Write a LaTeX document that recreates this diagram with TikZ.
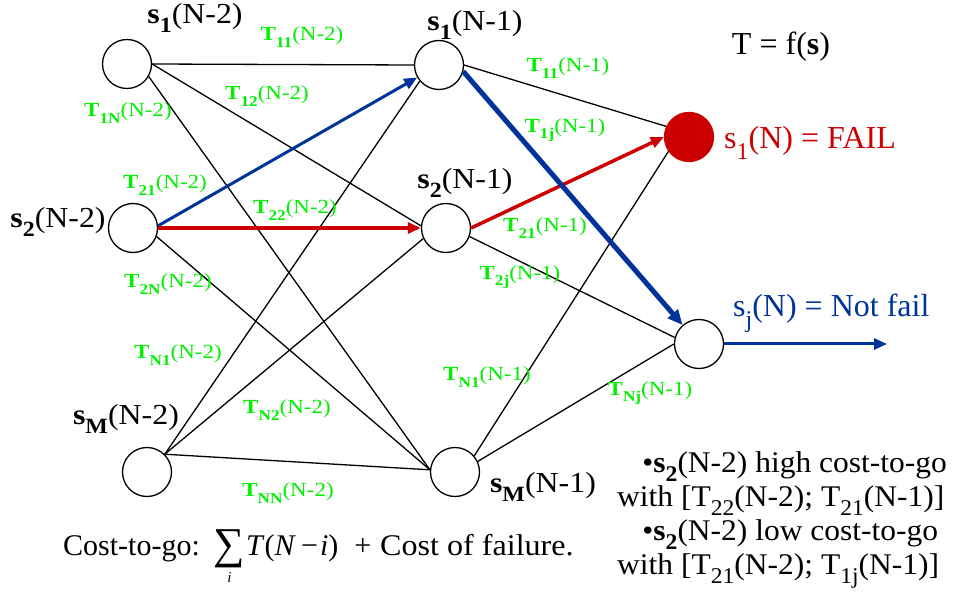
\documentclass[tikz,border=0pt]{standalone}
\usepackage{amsmath}
\usepackage{graphicx}
\usepackage{fontspec}
\setmainfont{Liberation Serif}
\usetikzlibrary{arrows.meta}
\definecolor{lgreen}{RGB}{0,240,0}
\definecolor{dred}{RGB}{204,0,0}
\definecolor{dblue}{RGB}{0,51,153}
\newcommand{\sbs}[1]{\raisebox{-0.33em}{\scalebox{0.75}{#1}}}
\newcommand{\Tl}[2]{\scalebox{1.15}[1]{\textbf{T}\sbs{\textbf{#1}}(#2)}}
\newcommand{\Sl}[2]{\scalebox{1.1}[1]{\textbf{s}\sbs{\textbf{#1}}(#2)}}
\tikzset{
  state/.style={circle, draw, line width=1.3pt, minimum size=49pt, inner sep=0pt},
  edge/.style={line width=1.3pt},
  tlab/.style={text=lgreen, font=\fontsize{20}{22}\selectfont, inner sep=0pt},
  slab/.style={font=\fontsize{29}{31}\selectfont, inner sep=0pt},
  big/.style={font=\fontsize{32}{34}\selectfont, inner sep=0pt},
  txt/.style={font=\fontsize{30}{32}\selectfont, inner sep=0pt},
  redarr/.style={draw=dred, line width=3.5pt, -{Triangle[length=13pt,width=11pt]}},
  bluearr/.style={draw=dblue, line width=3pt, -{Triangle[length=13pt,width=11pt]}},
}
\begin{document}
\begin{tikzpicture}[x=1pt, y=-1pt]
\useasboundingbox (0,0) rectangle (954,596);
% states
\node[state] (A1) at (127,64) {};
\node[state] (A2) at (133,228) {};
\node[state] (AM) at (147,472) {};
\node[state] (B1) at (439,65) {};
\node[state] (B2) at (446,228) {};
\node[state] (BM) at (455,472) {};
\node[state, fill=dred, draw=dred] (C1) at (689,137) {};
\node[state] (Cj) at (699,344) {};
\coordinate (out) at (887,344);
% black edges
\draw[edge] (A1.east) -- (B1.west);
\draw[edge] (A1.east) -- (B2.175);
\draw[edge] (A1.-30) -- (BM.175);
\draw[edge] (A2.-20) -- (BM.175);
\draw[edge] (AM.45) -- (B1.220);
\draw[edge] (AM.45) -- (B2.205);
\draw[edge] (AM.45) -- (BM.175);
\draw[edge] (B1.east) -- (C1.155);
\draw[edge] (B2.-20) -- (Cj.165);
\draw[edge] (BM.40) -- (C1.215);
\draw[edge] (BM.25) -- (Cj.west);
% highlighted paths
\draw[bluearr] (A2.5) -- (B1);
\draw[redarr] (A2.east) -- (B2.west);
\draw[redarr] (B2.east) -- (C1.west);
\draw[bluearr, line width=5pt, -{Triangle[length=15pt,width=13pt]}] (B1.-15) -- (Cj);
\draw[bluearr] (Cj.east) -- (out);
% state labels
\node[slab] (lA1) at (195,18) {\Sl{1}{N-2}};
\node[slab] (lA2) at (58,222) {\Sl{2}{N-2}};
\node[slab] (lAM) at (126,419) {\Sl{M}{N-2}};
\node[slab] (lB1) at (475,25) {\Sl{1}{N-1}};
\node[slab] (lB2) at (465,183) {\Sl{2}{N-1}};
\node[slab] (lBM) at (543,487) {\Sl{M}{N-1}};
\node[big, anchor=base] (tf) at (781,55) {T = f(\textbf{s})};
\node[big, text=dred, anchor=base west] (lC1) at (724,149) {s\sbs{1}(N) = FAIL};
\node[big, text=dblue, anchor=base west] (lCj) at (733,317) {s\sbs{j}(N) = Not fail};
% transition labels
\node[tlab] (t11a) at (302,37) {\Tl{11}{N-2}};
\node[tlab] (t12a) at (267,96) {\Tl{12}{N-2}};
\node[tlab] (t1na) at (128,113) {\Tl{1N}{N-2}};
\node[tlab] (t21a) at (165,185) {\Tl{21}{N-2}};
\node[tlab] (t22a) at (295,210) {\Tl{22}{N-2}};
\node[tlab] (t2na) at (168,284) {\Tl{2N}{N-2}};
\node[tlab] (tn1a) at (178,355) {\Tl{N1}{N-2}};
\node[tlab] (tn2a) at (287,410) {\Tl{N2}{N-2}};
\node[tlab] (tnna) at (288,493) {\Tl{NN}{N-2}};
\node[tlab] (t11b) at (568,68) {\Tl{11}{N-1}};
\node[tlab] (t1jb) at (565,130) {\Tl{1j}{N-1}};
\node[tlab] (t21b) at (545,228) {\Tl{21}{N-1}};
\node[tlab] (t2jb) at (520,277) {\Tl{2j}{N-1}};
\node[tlab] (tn1b) at (487,377) {\Tl{N1}{N-1}};
\node[tlab] (tnjb) at (650,393) {\Tl{Nj}{N-1}};
% texts
\node[txt, anchor=base west] (cost) at (63,555) {Cost-to-go:\hspace{14pt}$\mathop{\vcenter{\hbox{\fontsize{44}{44}\selectfont ∑}}}\limits_{\text{\fontsize{15}{15}\selectfont\itshape i}}$\hspace{1pt}\textit{T}(\textit{N}\hspace{5pt}−\hspace{2pt}\textit{i})\hspace{16pt}+\hspace{9pt}\scalebox{1.07}[1]{Cost of failure.}};
\node[anchor=base west, inner sep=0pt] (notes) at (617,472) {\scalebox{1.05}[1]{\fontsize{30}{34}\selectfont\begin{tabular}[t]{@{}l@{}}\hspace*{24pt}•\textbf{s}\sbs{\textbf{2}}(N-2) high cost-to-go\\
with [T\sbs{22}(N-2); T\sbs{21}(N-1)]\\
\hspace*{24pt}•\textbf{s}\sbs{\textbf{2}}(N-2) low cost-to-go\\
with [T\sbs{21}(N-2); T\sbs{1j}(N-1)]\end{tabular}}};
\end{tikzpicture}
\end{document}
